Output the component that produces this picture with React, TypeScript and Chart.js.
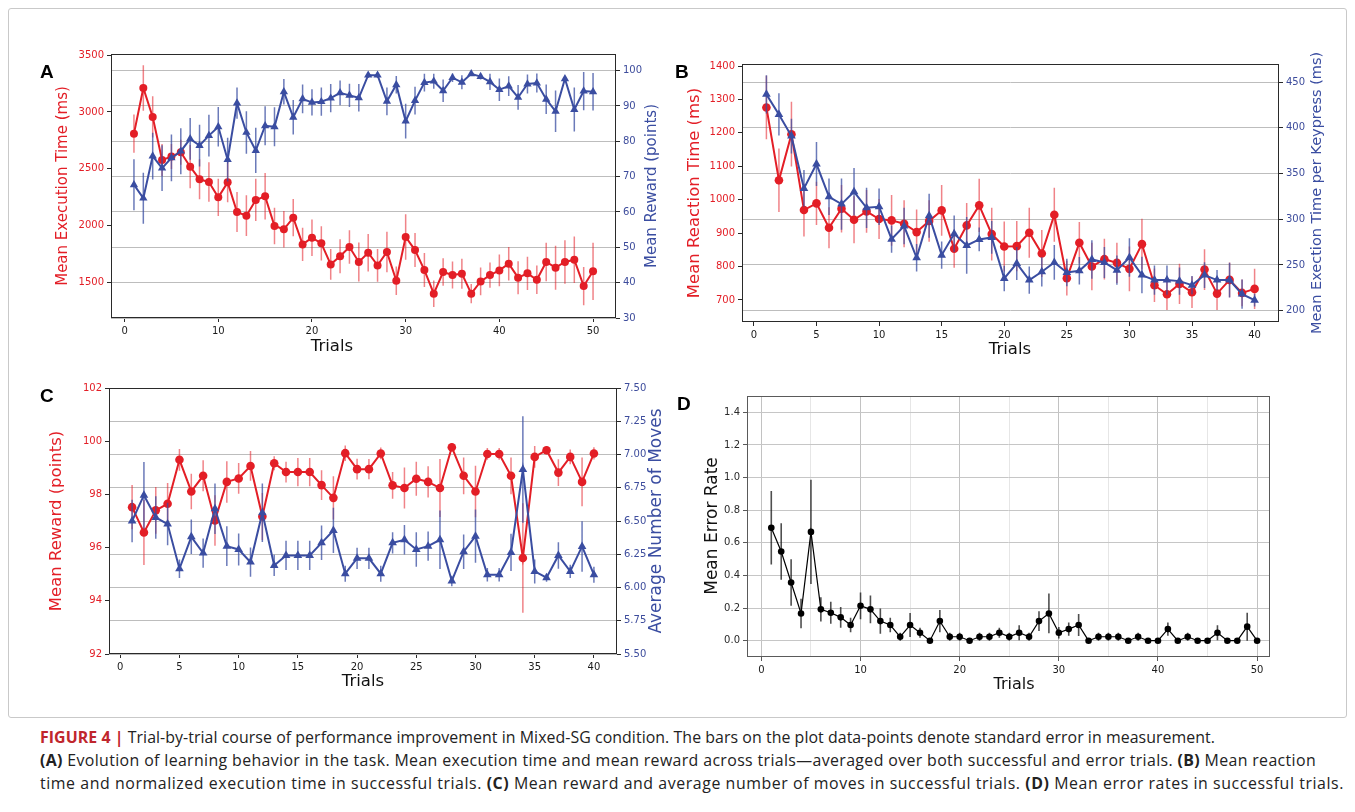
import React, { useEffect, useLayoutEffect, useRef } from 'react';
import { Chart, registerables } from 'chart.js';

Chart.register(...registerables);

// ---------------- DATA ----------------
const TRIALS_50 = [1, 2, 3, 4, 5, 6, 7, 8, 9, 10, 11, 12, 13, 14, 15, 16, 17, 18, 19, 20, 21, 22, 23, 24, 25, 26, 27, 28, 29, 30, 31, 32, 33, 34, 35, 36, 37, 38, 39, 40, 41, 42, 43, 44, 45, 46, 47, 48, 49, 50];
const TRIALS_40 = [1, 2, 3, 4, 5, 6, 7, 8, 9, 10, 11, 12, 13, 14, 15, 16, 17, 18, 19, 20, 21, 22, 23, 24, 25, 26, 27, 28, 29, 30, 31, 32, 33, 34, 35, 36, 37, 38, 39, 40];

// Panel A
const A_EXEC_TIME = [2809, 3211, 2956, 2577, 2607, 2645, 2518, 2407, 2383, 2248, 2380, 2119, 2087, 2225, 2257, 1996, 1967, 2069, 1834, 1893, 1843, 1658, 1729, 1811, 1679, 1761, 1649, 1767, 1514, 1899, 1784, 1608, 1400, 1591, 1564, 1576, 1400, 1508, 1564, 1605, 1664, 1541, 1579, 1523, 1679, 1629, 1679, 1699, 1467, 1597];
const A_EXEC_TIME_ERR = [169, 201, 182, 140, 110, 110, 190, 176, 173, 164, 176, 176, 180, 186, 205, 161, 161, 164, 147, 161, 150, 135, 150, 147, 171, 165, 144, 179, 125, 201, 150, 150, 117, 122, 119, 132, 85, 122, 111, 139, 147, 145, 147, 125, 170, 194, 191, 204, 169, 252];
const A_REWARD = [67.7, 63.9, 75.8, 72.4, 75.3, 77.2, 80.7, 78.8, 81.6, 84.1, 74.8, 90.8, 82.5, 77.4, 84.4, 84.1, 94.0, 86.8, 92.0, 91.0, 91.2, 92.2, 93.7, 93.0, 92.3, 98.7, 98.7, 91.3, 96.0, 85.7, 91.5, 96.6, 97.0, 94.3, 98.0, 96.7, 99.1, 98.3, 96.8, 94.6, 95.6, 92.4, 96.2, 96.5, 91.9, 88.5, 97.7, 89.0, 94.2, 94.0];
const A_REWARD_ERR = [7.2, 7.2, 6.6, 6.5, 6.6, 6.5, 5.9, 5.9, 5.9, 5.6, 6.2, 4.4, 6.0, 6.4, 5.5, 5.5, 3.6, 4.9, 4.1, 3.7, 4.0, 4.0, 3.5, 3.3, 3.9, 0.8, 0.8, 3.9, 2.5, 4.9, 3.9, 2.5, 2.1, 3.2, 1.2, 2.0, 0.6, 0.8, 2.3, 3.2, 2.8, 3.5, 2.7, 2.7, 4.2, 5.9, 0.7, 6.2, 5.4, 5.3];
const A_X_TICKS = [0, 10, 20, 30, 40, 50];
const A_LEFT_TICKS = [1500, 2000, 2500, 3000, 3500];
const A_RIGHT_TICKS = [30, 40, 50, 60, 70, 80, 90, 100];

// Panel B
const B_REACTION_TIME = [1276, 1058, 1196, 969, 989, 916, 973, 940, 965, 942, 938, 928, 903, 936, 968, 853, 923, 983, 897, 860, 861, 901, 839, 955, 765, 871, 800, 822, 811, 793, 867, 744, 717, 748, 723, 791, 719, 760, 721, 733];
const B_REACTION_TIME_ERR = [95, 95, 97, 79, 65, 61, 71, 70, 64, 60, 76, 70, 68, 62, 76, 57, 67, 80, 79, 75, 75, 75, 70, 81, 52, 62, 71, 61, 60, 67, 76, 50, 47, 60, 47, 61, 49, 52, 40, 60];
const B_EXEC_PER_KEY = [436.5, 414.6, 390.9, 333.7, 360.3, 324.5, 316.5, 330.0, 312.5, 313.6, 278.2, 292.5, 257.8, 303.8, 260.7, 284.1, 271.3, 277.9, 280.1, 235.2, 251.6, 233.4, 242.5, 252.7, 241.8, 243.6, 256.0, 252.7, 244.3, 258.2, 238.9, 233.4, 233.4, 232.3, 227.9, 238.9, 233.4, 233.4, 218.1, 211.5];
const B_EXEC_PER_KEY_ERR = [21, 23, 19, 20, 24, 20, 28, 26, 22, 20, 15, 20, 15, 24, 15, 20, 31, 13, 18, 14, 18, 15, 16, 19, 15, 15, 21, 17, 16, 21, 20, 16, 16, 15, 10, 14, 11, 19, 16, 7];
const B_X_TICKS = [0, 5, 10, 15, 20, 25, 30, 35, 40];
const B_LEFT_TICKS = [700, 800, 900, 1000, 1100, 1200, 1300, 1400];
const B_RIGHT_TICKS = [200, 250, 300, 350, 400, 450];

// Panel C
const C_REWARD = [97.52, 96.57, 97.40, 97.65, 99.30, 98.11, 98.70, 97.02, 98.47, 98.60, 99.07, 97.17, 99.17, 98.84, 98.84, 98.84, 98.35, 97.87, 99.55, 98.95, 98.95, 99.54, 98.34, 98.24, 98.59, 98.47, 98.24, 99.77, 98.70, 98.11, 99.52, 99.52, 98.70, 95.61, 99.41, 99.66, 98.82, 99.41, 98.47, 99.54];
const C_REWARD_ERR = [0.83, 1.22, 0.88, 0.78, 0.41, 0.67, 0.58, 0.95, 0.78, 0.58, 0.56, 0.88, 0.26, 0.39, 0.53, 0.53, 0.56, 0.81, 0.29, 0.39, 0.38, 0.22, 0.50, 0.77, 0.64, 0.59, 1.09, 0.16, 0.69, 0.97, 0.22, 0.22, 0.69, 2.06, 0.41, 0.16, 0.50, 0.28, 0.92, 0.23];
const C_MOVES = [6.500, 6.694, 6.527, 6.477, 6.141, 6.381, 6.259, 6.592, 6.311, 6.286, 6.191, 6.562, 6.166, 6.241, 6.241, 6.241, 6.336, 6.429, 6.104, 6.219, 6.219, 6.104, 6.336, 6.359, 6.286, 6.311, 6.359, 6.049, 6.269, 6.386, 6.096, 6.096, 6.264, 6.887, 6.121, 6.074, 6.241, 6.121, 6.309, 6.096];
const C_MOVES_ERR = [0.16, 0.25, 0.16, 0.16, 0.07, 0.13, 0.11, 0.19, 0.15, 0.12, 0.11, 0.22, 0.08, 0.11, 0.11, 0.11, 0.13, 0.17, 0.06, 0.08, 0.08, 0.06, 0.08, 0.11, 0.13, 0.11, 0.22, 0.04, 0.13, 0.20, 0.05, 0.05, 0.14, 0.40, 0.09, 0.03, 0.10, 0.05, 0.19, 0.06];
const C_X_TICKS = [0, 5, 10, 15, 20, 25, 30, 35, 40];
const C_LEFT_TICKS = [92, 94, 96, 98, 100, 102];
const C_RIGHT_TICKS = [5.5, 5.75, 6.0, 6.25, 6.5, 6.75, 7.0, 7.25, 7.5];

// Panel D
const D_ERROR_RATE = [0.692, 0.547, 0.357, 0.167, 0.667, 0.192, 0.171, 0.143, 0.096, 0.214, 0.192, 0.120, 0.096, 0.024, 0.096, 0.049, 0.000, 0.120, 0.024, 0.024, 0.000, 0.024, 0.024, 0.049, 0.024, 0.049, 0.024, 0.120, 0.167, 0.049, 0.071, 0.096, 0.000, 0.024, 0.024, 0.024, 0.000, 0.024, 0.000, 0.000, 0.071, 0.000, 0.024, 0.000, 0.000, 0.049, 0.000, 0.000, 0.086, 0.000];
const D_ERROR_RATE_ERR = [0.225, 0.173, 0.143, 0.09, 0.32, 0.074, 0.067, 0.064, 0.045, 0.082, 0.085, 0.077, 0.045, 0.024, 0.073, 0.031, 0, 0.068, 0.024, 0.024, 0, 0.024, 0.024, 0.031, 0.024, 0.046, 0.024, 0.061, 0.122, 0.035, 0.041, 0.067, 0, 0.024, 0.024, 0.024, 0, 0.024, 0, 0, 0.041, 0, 0.024, 0, 0, 0.046, 0, 0, 0.086, 0];
const D_X_TICKS = [0, 5, 10, 15, 20, 25, 30, 35, 40, 45, 50];
const D_Y_TICKS = [0.0, 0.2, 0.4, 0.6, 0.8, 1.0, 1.2, 1.4];

// ---------------- STYLE ----------------
const FONT = '"DejaVu Sans", sans-serif';
const RED = '#e31e26';
const RED_ERR = 'rgba(227,30,38,0.55)';
const BLUE = '#3a4da1';
const BLUE_TICK = '#3d4c9c';
const BLUE_ERR = 'rgba(58,77,161,0.75)';
const GRID = '#bdbdbd';
const SPINE = '#2a2a2a';

// ---------------- PLUGINS ----------------
const errorBarPlugin = {
  id: 'errorBars',
  beforeDatasetDraw(chart: any, args: any) {
    const ds = chart.data.datasets[args.index];
    if (!ds.errors) return;
    const meta = args.meta;
    const xs = chart.scales[meta.xAxisID];
    const ys = chart.scales[meta.yAxisID];
    const ctx = chart.ctx;
    ctx.save();
    ctx.strokeStyle = ds.errorColor;
    ctx.lineWidth = ds.errorWidth;
    ctx.beginPath();
    ds.data.forEach((p: any, i: number) => {
      const e = ds.errors[i];
      if (!e) return;
      const x = xs.getPixelForValue(p.x);
      ctx.moveTo(x, ys.getPixelForValue(p.y - e));
      ctx.lineTo(x, ys.getPixelForValue(p.y + e));
    });
    ctx.stroke();
    ctx.restore();
  },
};

const framePlugin = {
  id: 'frameBox',
  afterDraw(chart: any, _a: any, opts: any) {
    const { ctx, chartArea: a } = chart;
    ctx.save();
    ctx.strokeStyle = opts.color || SPINE;
    ctx.lineWidth = 1;
    const l = Math.round(a.left) + 0.5;
    const t = Math.round(a.top) + 0.5;
    const r = Math.round(a.right) - 0.5;
    const b = Math.round(a.bottom) - 0.5;
    ctx.strokeRect(l, t, r - l, b - t);
    ctx.restore();
  },
};

const titlePlugin = {
  id: 'pageTitles',
  afterDraw(chart: any, _a: any, opts: any) {
    const ctx = chart.ctx;
    (opts.items || []).forEach((t: any) => {
      ctx.save();
      ctx.translate(t.x - opts.ox, t.y - opts.oy);
      ctx.rotate(((t.rot || 0) * Math.PI) / 180);
      ctx.font = `${t.size}px ${FONT}`;
      ctx.fillStyle = t.color;
      ctx.textAlign = 'center';
      ctx.textBaseline = 'middle';
      ctx.fillText(t.text, 0, 0);
      ctx.restore();
    });
  },
};

// ---------------- CONFIG BUILDERS ----------------
type Box = { x: number; y: number; w: number; h: number };
type Area = { l: number; t: number; r: number; b: number };

function tickAxis(ticksArr: number[], fmt: (v: number) => string, color: string, extra: any) {
  return {
    type: 'linear',
    bounds: 'data',
    afterBuildTicks: (s: any) => {
      s.ticks = ticksArr.map((v) => ({ value: v }));
    },
    border: { display: false },
    ticks: {
      autoSkip: false,
      maxRotation: 0,
      color,
      font: { family: FONT, size: 10 },
      padding: 3,
      callback: (v: any) => fmt(Number(v)),
    },
    ...extra,
  };
}

function series(xs: number[], ys: number[], err: number[], o: any) {
  return {
    data: xs.map((x, i) => ({ x, y: ys[i] })),
    errors: err,
    errorColor: o.errColor,
    errorWidth: o.errWidth,
    xAxisID: 'x',
    yAxisID: o.axis,
    borderColor: o.color,
    backgroundColor: o.color,
    borderWidth: o.lineWidth,
    pointStyle: o.marker,
    pointRadius: o.radius,
    pointHoverRadius: o.radius,
    pointBackgroundColor: o.color,
    pointBorderColor: o.color,
    pointBorderWidth: 0,
    tension: 0,
    order: o.order,
  };
}

function buildConfig(p: {
  box: Box;
  area: Area;
  xRange: [number, number];
  xTicks: number[];
  xFmt: (v: number) => string;
  xGrid?: any;
  left: { range: [number, number]; ticks: number[]; fmt: (v: number) => string; color: string; grid?: any };
  right?: { range: [number, number]; ticks: number[]; fmt: (v: number) => string; color: string };
  datasets: any[];
  titles: any[];
  spine?: string;
}) {
  const { box, area } = p;
  const leftW = area.l - box.x;
  const rightW = box.x + box.w - area.r;
  const topPad = area.t - box.y;
  const bottomH = box.y + box.h - area.b;
  const tickGrid = { tickLength: 4, tickColor: p.spine || SPINE, tickWidth: 1 };
  const scales: any = {
    x: tickAxis(p.xTicks, p.xFmt, '#1a1a1a', {
      position: 'bottom',
      min: p.xRange[0],
      max: p.xRange[1],
      afterFit: (s: any) => {
        s.height = bottomH;
      },
      grid: p.xGrid || { display: true, drawOnChartArea: false, ...tickGrid },
    }),
    yL: tickAxis(p.left.ticks, p.left.fmt, p.left.color, {
      position: 'left',
      min: p.left.range[0],
      max: p.left.range[1],
      afterFit: (s: any) => {
        s.width = leftW;
      },
      grid: p.left.grid || { display: true, drawOnChartArea: false, ...tickGrid },
    }),
  };
  if (p.right) {
    scales.yR = tickAxis(p.right.ticks, p.right.fmt, p.right.color, {
      position: 'right',
      min: p.right.range[0],
      max: p.right.range[1],
      afterFit: (s: any) => {
        s.width = rightW;
      },
      grid: { display: true, drawOnChartArea: true, color: GRID, lineWidth: 1, ...tickGrid },
    });
  }
  return {
    type: 'line',
    data: { datasets: p.datasets },
    options: {
      responsive: false,
      animation: false,
      devicePixelRatio: 1,
      events: [],
      layout: { padding: { top: topPad, left: 0, bottom: 0, right: p.right ? 0 : rightW } },
      scales,
      plugins: {
        legend: { display: false },
        tooltip: { enabled: false },
        frameBox: { color: p.spine || SPINE },
        pageTitles: { ox: box.x, oy: box.y, items: p.titles },
      },
    },
    plugins: [errorBarPlugin, framePlugin, titlePlugin],
  };
}

const fmtInt = (v: number) => String(Math.round(v));

// ---------------- PANELS ----------------
const PANEL_A = {
  box: { x: 30, y: 30, w: 650, h: 340 },
  area: { l: 111, t: 54, r: 616, b: 318 },
  xRange: [-1.45, 52.45] as [number, number],
  xTicks: A_X_TICKS,
  xFmt: fmtInt,
  left: { range: [1186, 3510] as [number, number], ticks: A_LEFT_TICKS, fmt: fmtInt, color: RED },
  right: { range: [30, 104.7] as [number, number], ticks: A_RIGHT_TICKS, fmt: fmtInt, color: BLUE_TICK },
  datasets: [
    series(TRIALS_50, A_EXEC_TIME, A_EXEC_TIME_ERR, { axis: 'yL', color: RED, errColor: RED_ERR, errWidth: 1.5, lineWidth: 2, marker: 'circle', radius: 4, order: 1 }),
    series(TRIALS_50, A_REWARD, A_REWARD_ERR, { axis: 'yR', color: BLUE, errColor: BLUE_ERR, errWidth: 1.5, lineWidth: 2, marker: 'triangle', radius: 4.8, order: 0 }),
  ],
  titles: [
    { text: 'Mean Execution Time (ms)', x: 63, y: 186, rot: -90, size: 15, color: RED },
    { text: 'Mean Reward (points)', x: 652, y: 186, rot: -90, size: 15, color: BLUE },
    { text: 'Trials', x: 332, y: 347, rot: 0, size: 16.5, color: '#111' },
  ],
};

const PANEL_B = {
  box: { x: 670, y: 40, w: 680, h: 335 },
  area: { l: 742, t: 64, r: 1279, b: 322 },
  xRange: [-0.95, 41.95] as [number, number],
  xTicks: B_X_TICKS,
  xFmt: fmtInt,
  left: { range: [634, 1406] as [number, number], ticks: B_LEFT_TICKS, fmt: fmtInt, color: RED },
  right: { range: [187.6, 469.7] as [number, number], ticks: B_RIGHT_TICKS, fmt: fmtInt, color: BLUE_TICK },
  datasets: [
    series(TRIALS_40, B_REACTION_TIME, B_REACTION_TIME_ERR, { axis: 'yL', color: RED, errColor: RED_ERR, errWidth: 1.5, lineWidth: 2, marker: 'circle', radius: 4.3, order: 1 }),
    series(TRIALS_40, B_EXEC_PER_KEY, B_EXEC_PER_KEY_ERR, { axis: 'yR', color: BLUE, errColor: BLUE_ERR, errWidth: 1.5, lineWidth: 2, marker: 'triangle', radius: 5, order: 0 }),
  ],
  titles: [
    { text: 'Mean Reaction Time (ms)', x: 695, y: 193, rot: -90, size: 16.5, color: RED },
    { text: 'Mean Exection Time per Keypress (ms)', x: 1317, y: 193, rot: -90, size: 14.5, color: BLUE },
    { text: 'Trials', x: 1010, y: 350, rot: 0, size: 16.5, color: '#111' },
  ],
};

const PANEL_C = {
  box: { x: 30, y: 365, w: 650, h: 330 },
  area: { l: 109, t: 388, r: 617, b: 654 },
  xRange: [-0.95, 41.95] as [number, number],
  xTicks: C_X_TICKS,
  xFmt: fmtInt,
  left: { range: [92, 102] as [number, number], ticks: C_LEFT_TICKS, fmt: fmtInt, color: RED },
  right: { range: [5.5, 7.5] as [number, number], ticks: C_RIGHT_TICKS, fmt: (v: number) => v.toFixed(2), color: BLUE_TICK },
  datasets: [
    series(TRIALS_40, C_REWARD, C_REWARD_ERR, { axis: 'yL', color: RED, errColor: RED_ERR, errWidth: 1.5, lineWidth: 2, marker: 'circle', radius: 4.3, order: 1 }),
    series(TRIALS_40, C_MOVES, C_MOVES_ERR, { axis: 'yR', color: BLUE, errColor: BLUE_ERR, errWidth: 1.5, lineWidth: 2, marker: 'triangle', radius: 5, order: 0 }),
  ],
  titles: [
    { text: 'Mean Reward (points)', x: 57, y: 521, rot: -90, size: 16.5, color: RED },
    { text: 'Average Number of Moves', x: 657, y: 521, rot: -90, size: 17, color: BLUE },
    { text: 'Trials', x: 363, y: 682, rot: 0, size: 16.5, color: '#111' },
  ],
};

const D_SPINE = '#5a5a5a';
const PANEL_D = {
  box: { x: 680, y: 375, w: 610, h: 330 },
  area: { l: 747, t: 396, r: 1270, b: 657 },
  xRange: [-1.45, 51.3] as [number, number],
  xTicks: D_X_TICKS,
  xFmt: (v: number) => (v % 10 === 0 ? String(v) : ''),
  xGrid: {
    display: true,
    drawOnChartArea: true,
    color: (c: any) => (c.tick && c.tick.value % 10 === 0 ? '#c2c2c2' : '#e6e6e6'),
    lineWidth: 1,
    tickLength: 4,
    tickColor: (c: any) => (c.tick && c.tick.value % 10 === 0 ? D_SPINE : 'rgba(0,0,0,0)'),
    tickWidth: 1,
  },
  left: {
    range: [-0.1, 1.5] as [number, number],
    ticks: D_Y_TICKS,
    fmt: (v: number) => v.toFixed(1),
    color: '#2a2a2a',
    grid: { display: true, drawOnChartArea: true, color: '#c6c6c6', lineWidth: 1, tickLength: 4, tickColor: D_SPINE, tickWidth: 1 },
  },
  datasets: [
    series(TRIALS_50, D_ERROR_RATE, D_ERROR_RATE_ERR, { axis: 'yL', color: '#000', errColor: 'rgba(20,20,20,0.75)', errWidth: 1.6, lineWidth: 1.2, marker: 'circle', radius: 3.3, order: 0 }),
  ],
  titles: [
    { text: 'Mean Error Rate', x: 713, y: 526, rot: -90, size: 17, color: '#111' },
    { text: 'Trials', x: 1014, y: 685, rot: 0, size: 16, color: '#111' },
  ],
  spine: D_SPINE,
};

// ---------------- COMPONENTS ----------------
function PanelChart({ panel }: { panel: any }) {
  const ref = useRef<HTMLCanvasElement>(null);
  useEffect(() => {
    const chart = new Chart(ref.current as HTMLCanvasElement, buildConfig(panel) as any);
    return () => chart.destroy();
  }, []);
  const b = panel.box;
  return (
    <canvas
      ref={ref}
      width={b.w}
      height={b.h}
      style={{ position: 'absolute', left: b.x, top: b.y, width: b.w, height: b.h }}
    />
  );
}

const letterStyle = (x: number, y: number): React.CSSProperties => ({
  position: 'absolute',
  left: x,
  top: y,
  fontFamily: '"Liberation Sans", Arial, sans-serif',
  fontWeight: 'bold',
  fontSize: 19,
  lineHeight: '20px',
  color: '#000',
});

// caption line whose letter spacing is fitted so that it spans the target width
function CaptionLine({ top, width, children }: { top: number; width: number; children: React.ReactNode }) {
  const ref = useRef<HTMLSpanElement>(null);
  useLayoutEffect(() => {
    const el = ref.current;
    if (!el) return;
    el.style.letterSpacing = '0px';
    const natural = el.getBoundingClientRect().width;
    const n = (el.textContent || '').length;
    if (n > 1) el.style.letterSpacing = `${(width - natural) / n}px`;
  }, [width]);
  return (
    <span
      ref={ref}
      style={{
        position: 'absolute',
        left: 40,
        top,
        whiteSpace: 'nowrap',
        fontFamily: '"Open Sans", "Liberation Sans", sans-serif',
        fontSize: 15.9,
        lineHeight: '23px',
        color: '#222',
      }}
    >
      {children}
    </span>
  );
}

export default function App() {
  return (
    <div style={{ position: 'absolute', left: 0, top: 0, width: 1355, height: 812, overflow: 'hidden', background: '#fff' }}>
      <div
        style={{
          position: 'absolute',
          left: 8,
          top: 8,
          width: 1339,
          height: 710,
          boxSizing: 'border-box',
          border: '1px solid #c9c9c9',
          borderRadius: 3,
        }}
      />
      <PanelChart panel={PANEL_A} />
      <PanelChart panel={PANEL_B} />
      <PanelChart panel={PANEL_C} />
      <PanelChart panel={PANEL_D} />
      <div style={letterStyle(40, 62)}>A</div>
      <div style={letterStyle(675, 62)}>B</div>
      <div style={letterStyle(40, 386)}>C</div>
      <div style={letterStyle(677, 394)}>D</div>
      <CaptionLine top={726} width={1175}>
        <b style={{ color: '#c0262d' }}>FIGURE 4 |</b> Trial-by-trial course of performance improvement in Mixed-SG condition. The bars on the plot data-points denote standard error in measurement.
      </CaptionLine>
      <CaptionLine top={749} width={1276}>
        <b>(A)</b> Evolution of learning behavior in the task. Mean execution time and mean reward across trials—averaged over both successful and error trials. <b>(B)</b> Mean reaction
      </CaptionLine>
      <CaptionLine top={772} width={1304}>
        time and normalized execution time in successful trials. <b>(C)</b> Mean reward and average number of moves in successful trials. <b>(D)</b> Mean error rates in successful trials.
      </CaptionLine>
    </div>
  );
}
